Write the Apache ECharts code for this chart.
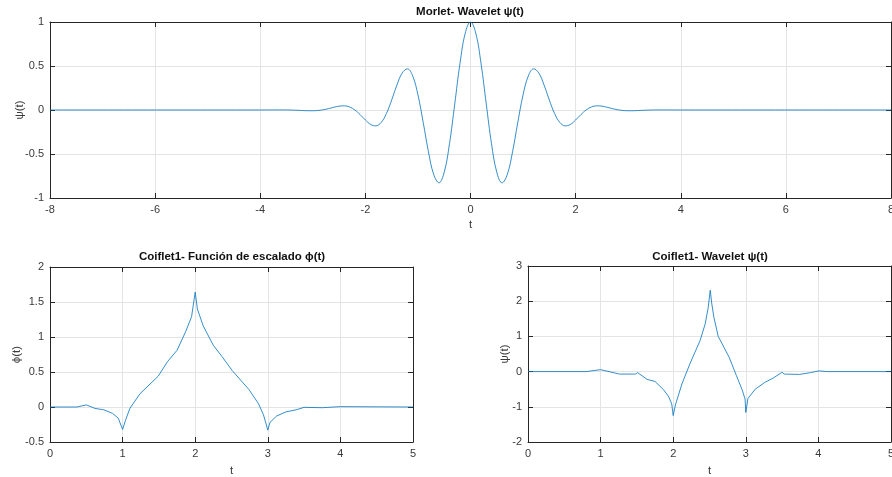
<!DOCTYPE html>
<html><head><meta charset="utf-8">
<script src="https://cdn.jsdelivr.net/npm/echarts@6/dist/echarts.min.js"></script>
<style>html,body{margin:0;padding:0;background:#fff}#c{width:892px;height:477px}</style>
</head><body><div id="c"></div>
<script>
// Morlet wavelet psi(t), sampled t = -4.0 ... 4.0 step 0.1 (zero outside, to ±8)
const morletEnds = [-8, 8];
const morletV = [
 0.0001,0.0004,0.0007,0.0010,0.0010,0.0005,-0.0009,-0.0030,-0.0057,-0.0081,
 -0.0084,-0.0053,0.0027,0.0156,0.0309,0.0438,0.0474,0.0343,0.0004,-0.0524,
 -0.1136,-0.1640,-0.1803,-0.1419,-0.0405,0.1125,0.2829,0.4195,0.4674,0.3870,
 0.1721,-0.1406,-0.4746,-0.7330,-0.8269,-0.7070,-0.3842,0.0676,0.5296,0.8732,
 1.0000,
 0.8732,0.5296,0.0676,-0.3842,-0.7070,-0.8269,-0.7330,-0.4746,-0.1406,0.1721,
 0.3870,0.4674,0.4195,0.2829,0.1125,-0.0405,-0.1419,-0.1803,-0.1640,-0.1136,
 -0.0524,0.0004,0.0343,0.0474,0.0438,0.0309,0.0156,0.0027,-0.0053,-0.0084,
 -0.0081,-0.0057,-0.0030,-0.0009,0.0005,0.0010,0.0010,0.0007,0.0004,0.0001
];
// Coiflet1 scaling function phi(t)
const phiT = [0,0.37,0.5,0.62,0.74,0.86,0.94,1.0,1.04,1.1,1.24,1.49,1.62,1.75,1.87,1.95,2.0,2.03,2.11,2.25,2.37,2.51,2.74,2.87,2.94,3.0,3.03,3.12,3.25,3.39,3.5,3.75,4.0,5.0];
const phiV = [0,0,0.03,-0.02,-0.04,-0.09,-0.16,-0.32,-0.19,-0.02,0.19,0.44,0.65,0.81,1.08,1.29,1.64,1.40,1.16,0.88,0.72,0.52,0.25,0.05,-0.11,-0.33,-0.22,-0.13,-0.07,-0.04,-0.005,-0.01,0.005,0];
// Coiflet1 wavelet psi(t)
const psiT = [0,0.8,1.0,1.26,1.48,1.51,1.64,1.75,1.87,1.94,1.98,2.0,2.03,2.12,2.23,2.37,2.44,2.48,2.51,2.53,2.56,2.62,2.77,2.87,2.95,2.99,3.0,3.03,3.13,3.26,3.38,3.5,3.53,3.74,3.89,4.01,4.12,5.0];
const psiV = [0,0,0.055,-0.07,-0.07,-0.03,-0.22,-0.28,-0.52,-0.72,-0.92,-1.25,-0.95,-0.35,0.22,0.88,1.35,1.79,2.31,1.95,1.55,1.0,0.41,-0.11,-0.52,-0.78,-1.16,-0.76,-0.5,-0.31,-0.18,-0.02,-0.07,-0.08,-0.03,0.02,0,0];

const titles = ['Morlet- Wavelet ψ(t)', 'Coiflet1- Función de escalado ϕ(t)', 'Coiflet1- Wavelet ψ(t)'];
const yNames = ['ψ(t)', 'ϕ(t)', 'ψ(t)'];

const morletData = [[morletEnds[0], 0]];
for (let i = 0; i < morletV.length; i++) morletData.push([+(-4 + i * 0.1).toFixed(2), morletV[i]]);
morletData.push([morletEnds[1], 0]);
const phiData = phiT.map((t, i) => [t, phiV[i]]);
const psiData = psiT.map((t, i) => [t, psiV[i]]);

const FONT = "'Liberation Sans', Arial, Helvetica, sans-serif";
const AX = '#262626', GRIDC = '#e4e4e4', TXT = '#3a3a3a';

function xa(gi, min, max, iv, main, nameGap) {
  return {
    type: 'value', gridIndex: gi, min, max, interval: iv,
    position: main ? 'bottom' : 'top',
    name: main ? 't' : '', nameLocation: 'middle', nameGap: nameGap, nameMoveOverlap: false,
    nameTextStyle: { color: TXT, fontSize: 11.5, fontFamily: FONT },
    axisLine: { show: true, onZero: false, lineStyle: { color: AX, width: 1 } },
    axisTick: { show: true, inside: true, length: 5, lineStyle: { color: AX } },
    axisLabel: { show: main, color: TXT, fontSize: 11, fontFamily: FONT, margin: 6 },
    splitLine: { show: main, lineStyle: { color: GRIDC, width: 1 } }
  };
}
function ya(gi, min, max, iv, main, name, nameGap) {
  return {
    type: 'value', gridIndex: gi, min, max, interval: iv,
    position: main ? 'left' : 'right',
    name: main ? name : '', nameLocation: 'middle', nameGap: nameGap, nameRotate: 90, nameMoveOverlap: false,
    nameTextStyle: { color: TXT, fontSize: 11.5, fontFamily: FONT },
    axisLine: { show: true, onZero: false, lineStyle: { color: AX, width: 1 } },
    axisTick: { show: true, inside: true, length: 5, lineStyle: { color: AX } },
    axisLabel: { show: main, color: TXT, fontSize: 11, fontFamily: FONT, margin: 6 },
    splitLine: { show: main, lineStyle: { color: GRIDC, width: 1 } }
  };
}

const chart = echarts.init(document.getElementById('c'), null, { renderer: 'canvas' });
const lineStyle = { color: '#0072BD', width: 0.8 };
chart.setOption({
  animation: false,
  backgroundColor: '#fff',
  grid: [
    { left: 50, top: 22, width: 841, height: 176, outerBoundsMode: 'none', containLabel: false },
    { left: 50, top: 267, width: 363, height: 175, outerBoundsMode: 'none', containLabel: false },
    { left: 528, top: 266, width: 363, height: 176, outerBoundsMode: 'none', containLabel: false }
  ],
  xAxis: [
    xa(0, -8, 8, 2, true, 21), xa(0, -8, 8, 2, false, 0),
    xa(1, 0, 5, 1, true, 23), xa(1, 0, 5, 1, false, 0),
    xa(2, 0, 5, 1, true, 23), xa(2, 0, 5, 1, false, 0)
  ],
  yAxis: [
    ya(0, -1, 1, 0.5, true, yNames[0], 24), ya(0, -1, 1, 0.5, false, '', 0),
    ya(1, -0.5, 2, 0.5, true, yNames[1], 27), ya(1, -0.5, 2, 0.5, false, '', 0),
    ya(2, -2, 3, 1, true, yNames[2], 17), ya(2, -2, 3, 1, false, '', 0)
  ],
  graphic: [
    { type: 'text', x: 470, y: 12, style: { text: titles[0], fill: '#111', font: "bold 11.5px " + FONT, textAlign: 'center', textVerticalAlign: 'middle' } },
    { type: 'text', x: 232, y: 257, style: { text: titles[1], fill: '#111', font: "bold 11.5px " + FONT, textAlign: 'center', textVerticalAlign: 'middle' } },
    { type: 'text', x: 710, y: 257, style: { text: titles[2], fill: '#111', font: "bold 11.5px " + FONT, textAlign: 'center', textVerticalAlign: 'middle' } }
  ],
  series: [
    { type: 'line', xAxisIndex: 0, yAxisIndex: 0, data: morletData, showSymbol: false, smooth: 0.4, lineStyle, z: 5 },
    { type: 'line', xAxisIndex: 2, yAxisIndex: 2, data: phiData, showSymbol: false, lineStyle, z: 5 },
    { type: 'line', xAxisIndex: 4, yAxisIndex: 4, data: psiData, showSymbol: false, lineStyle, z: 5 }
  ]
});
</script></body></html>
